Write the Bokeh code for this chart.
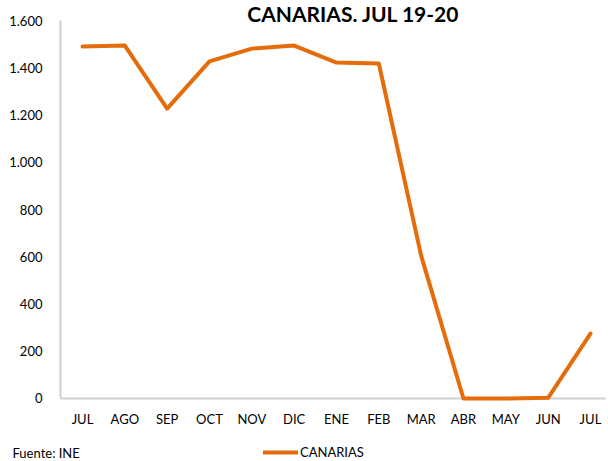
from bokeh.plotting import figure
from bokeh.models import Range1d, FixedTicker, Label
from bokeh.embed import file_html
from bokeh.resources import INLINE

months = ["JUL", "AGO", "SEP", "OCT", "NOV", "DIC", "ENE", "FEB", "MAR", "ABR", "MAY", "JUN", "JUL"]
canarias = [1490, 1494, 1227, 1427, 1481, 1494, 1422, 1418, 605, 0, 0, 3, 275]
y_ticks = [0, 200, 400, 600, 800, 1000, 1200, 1400, 1600]
y_tick_labels = ["0", "200", "400", "600", "800", "1.000", "1.200", "1.400", "1.600"]
title_text = "CANARIAS. JUL 19-20"
source_text = "Fuente: INE"

FONT = "Lato"
ORANGE = "#E46C0A"
AXIS_GRAY = "#D0D0D0"

xs = list(range(len(months)))
W, H = 608, 461

p = figure(width=W, height=H, output_backend="svg", toolbar_location=None,
           x_range=Range1d(-1.937, 12.426), y_range=Range1d(-266.7, 1684.7),
           min_border_left=0, min_border_right=0, min_border_top=0, min_border_bottom=0)
p.outline_line_color = None
p.xgrid.visible = False
p.ygrid.visible = False

p.line(xs, canarias, line_color=ORANGE, line_width=4, line_join="round", line_cap="round",
       legend_label="CANARIAS", level="overlay")

# y axis
p.yaxis.fixed_location = -0.52
p.yaxis.bounds = (0, 1600)
p.yaxis.ticker = FixedTicker(ticks=y_ticks)
p.yaxis.major_label_overrides = {t: l for t, l in zip(y_ticks, y_tick_labels)}
p.yaxis.major_tick_line_color = None
p.yaxis.minor_tick_line_color = None
p.yaxis.axis_line_color = AXIS_GRAY
p.yaxis.axis_line_width = 2
p.yaxis.major_label_text_font = FONT
p.yaxis.major_label_text_font_size = "13px"
p.yaxis.major_label_text_color = "#000000"
p.yaxis.major_label_standoff = 12

# x axis
p.xaxis.fixed_location = 0
p.xaxis.bounds = (-0.52, 12.35)
p.xaxis.ticker = FixedTicker(ticks=xs)
p.xaxis.major_label_overrides = {i: m for i, m in zip(xs, months)}
p.xaxis.major_tick_line_color = None
p.xaxis.minor_tick_line_color = None
p.xaxis.axis_line_color = AXIS_GRAY
p.xaxis.axis_line_width = 2
p.xaxis.major_label_text_font = FONT
p.xaxis.major_label_text_font_size = "13px"
p.xaxis.major_label_text_color = "#000000"
p.xaxis.major_label_standoff = 7

# legend
lg = p.legend[0]
lg.location = (263, 1)
lg.orientation = "horizontal"
lg.padding = 0
lg.margin = 0
lg.spacing = 0
lg.border_line_color = None
lg.background_fill_alpha = 0
lg.glyph_width = 35
lg.glyph_height = 14
lg.label_height = 14
lg.label_standoff = 2
lg.label_text_font = FONT
lg.label_text_font_size = "13px"
lg.label_text_color = "#000000"

# title
p.add_layout(Label(x=353, y=H, x_units="screen", y_units="screen", text=title_text,
                   text_align="center", text_baseline="top",
                   text_font=FONT, text_font_style="bold", text_font_size="21px",
                   text_color="#000000"))

# source
p.add_layout(Label(x=12, y=9, x_units="screen", y_units="screen", text=source_text,
                   text_align="left", text_baseline="alphabetic",
                   text_font=FONT, text_font_size="13px", text_color="#000000"))

open("out.html", "w").write(file_html(p, INLINE))
